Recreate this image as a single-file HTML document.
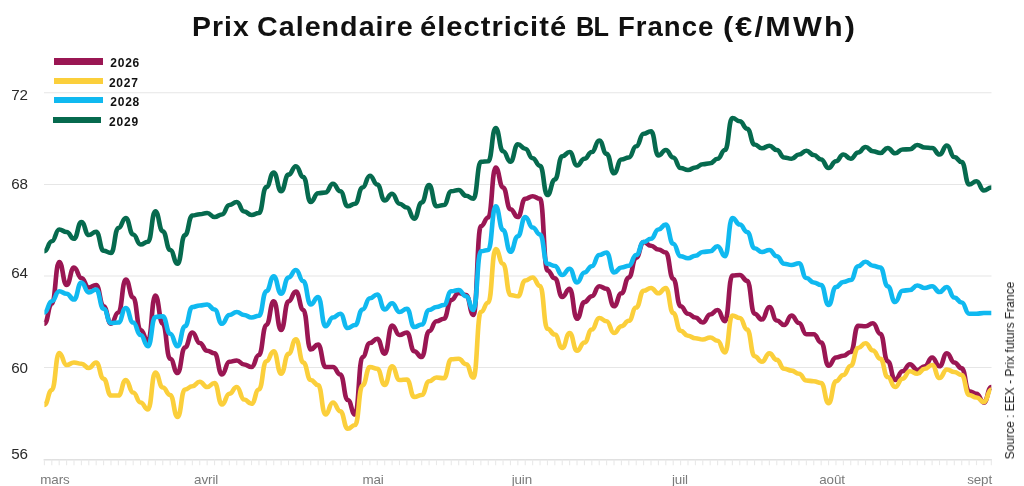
<!DOCTYPE html>
<html><head><meta charset="utf-8"><title>Prix Calendaire</title>
<style>
html,body{margin:0;padding:0;background:#fff;}
body{width:1024px;height:486px;position:relative;overflow:hidden;font-family:"Liberation Sans",sans-serif;}
#title{position:absolute;left:192px;top:9.5px;font-weight:bold;font-size:28px;line-height:34px;color:#111;white-space:nowrap;}
#title span{position:absolute;top:0;display:block;transform-origin:0 0;white-space:nowrap;}
svg{position:absolute;left:0;top:0;}
#lines{filter:blur(0.5px);}
.txt{filter:blur(0.35px);}
.yl{position:absolute;left:9.5px;width:20px;text-align:center;font-size:15.2px;line-height:18px;color:#2a2a2a;letter-spacing:-0.15px;}
.xl{position:absolute;top:471.8px;text-align:center;font-size:13.4px;line-height:16px;color:#7a7a7a;letter-spacing:-0.1px;}
.sw{position:absolute;height:6.6px;}
.lt{position:absolute;left:110.3px;font-size:12px;line-height:15px;font-weight:bold;color:#111;letter-spacing:0.75px;}
#src{position:absolute;left:1010px;top:371.3px;width:0;height:0;}
#src span{position:absolute;left:-100px;top:-8px;width:200px;text-align:center;font-size:13.6px;line-height:16px;color:#222;white-space:nowrap;transform:rotate(-90deg) scaleX(0.884);letter-spacing:0;}
</style></head><body>
<svg width="1024" height="486" viewBox="0 0 1024 486">
<line x1="44" x2="991.5" y1="92.75" y2="92.75" stroke="#e6e6e6" stroke-width="1.05"/><line x1="44" x2="991.5" y1="184.4" y2="184.4" stroke="#e6e6e6" stroke-width="1.05"/><line x1="44" x2="991.5" y1="276" y2="276" stroke="#e6e6e6" stroke-width="1.05"/><line x1="44" x2="991.5" y1="367.5" y2="367.5" stroke="#e6e6e6" stroke-width="1.05"/><line x1="43.6" x2="991.9" y1="459.75" y2="459.75" stroke="#e0e0e0" stroke-width="1.5"/><line x1="44.40" x2="44.40" y1="459.75" y2="465.15" stroke="#e9e9e9" stroke-width="1.1"/><line x1="51.80" x2="51.80" y1="459.75" y2="465.15" stroke="#e9e9e9" stroke-width="1.1"/><line x1="59.20" x2="59.20" y1="459.75" y2="465.15" stroke="#e9e9e9" stroke-width="1.1"/><line x1="66.59" x2="66.59" y1="459.75" y2="465.15" stroke="#e9e9e9" stroke-width="1.1"/><line x1="73.99" x2="73.99" y1="459.75" y2="465.15" stroke="#e9e9e9" stroke-width="1.1"/><line x1="81.39" x2="81.39" y1="459.75" y2="465.15" stroke="#e9e9e9" stroke-width="1.1"/><line x1="88.79" x2="88.79" y1="459.75" y2="465.15" stroke="#e9e9e9" stroke-width="1.1"/><line x1="96.18" x2="96.18" y1="459.75" y2="465.15" stroke="#e9e9e9" stroke-width="1.1"/><line x1="103.58" x2="103.58" y1="459.75" y2="465.15" stroke="#e9e9e9" stroke-width="1.1"/><line x1="110.98" x2="110.98" y1="459.75" y2="465.15" stroke="#e9e9e9" stroke-width="1.1"/><line x1="118.38" x2="118.38" y1="459.75" y2="465.15" stroke="#e9e9e9" stroke-width="1.1"/><line x1="125.77" x2="125.77" y1="459.75" y2="465.15" stroke="#e9e9e9" stroke-width="1.1"/><line x1="133.17" x2="133.17" y1="459.75" y2="465.15" stroke="#e9e9e9" stroke-width="1.1"/><line x1="140.57" x2="140.57" y1="459.75" y2="465.15" stroke="#e9e9e9" stroke-width="1.1"/><line x1="147.97" x2="147.97" y1="459.75" y2="465.15" stroke="#e9e9e9" stroke-width="1.1"/><line x1="155.36" x2="155.36" y1="459.75" y2="465.15" stroke="#e9e9e9" stroke-width="1.1"/><line x1="162.76" x2="162.76" y1="459.75" y2="465.15" stroke="#e9e9e9" stroke-width="1.1"/><line x1="170.16" x2="170.16" y1="459.75" y2="465.15" stroke="#e9e9e9" stroke-width="1.1"/><line x1="177.56" x2="177.56" y1="459.75" y2="465.15" stroke="#e9e9e9" stroke-width="1.1"/><line x1="184.96" x2="184.96" y1="459.75" y2="465.15" stroke="#e9e9e9" stroke-width="1.1"/><line x1="192.35" x2="192.35" y1="459.75" y2="465.15" stroke="#e9e9e9" stroke-width="1.1"/><line x1="199.75" x2="199.75" y1="459.75" y2="465.15" stroke="#e9e9e9" stroke-width="1.1"/><line x1="207.15" x2="207.15" y1="459.75" y2="465.15" stroke="#e9e9e9" stroke-width="1.1"/><line x1="214.55" x2="214.55" y1="459.75" y2="465.15" stroke="#e9e9e9" stroke-width="1.1"/><line x1="221.94" x2="221.94" y1="459.75" y2="465.15" stroke="#e9e9e9" stroke-width="1.1"/><line x1="229.34" x2="229.34" y1="459.75" y2="465.15" stroke="#e9e9e9" stroke-width="1.1"/><line x1="236.74" x2="236.74" y1="459.75" y2="465.15" stroke="#e9e9e9" stroke-width="1.1"/><line x1="244.14" x2="244.14" y1="459.75" y2="465.15" stroke="#e9e9e9" stroke-width="1.1"/><line x1="251.53" x2="251.53" y1="459.75" y2="465.15" stroke="#e9e9e9" stroke-width="1.1"/><line x1="258.93" x2="258.93" y1="459.75" y2="465.15" stroke="#e9e9e9" stroke-width="1.1"/><line x1="266.33" x2="266.33" y1="459.75" y2="465.15" stroke="#e9e9e9" stroke-width="1.1"/><line x1="273.73" x2="273.73" y1="459.75" y2="465.15" stroke="#e9e9e9" stroke-width="1.1"/><line x1="281.12" x2="281.12" y1="459.75" y2="465.15" stroke="#e9e9e9" stroke-width="1.1"/><line x1="288.52" x2="288.52" y1="459.75" y2="465.15" stroke="#e9e9e9" stroke-width="1.1"/><line x1="295.92" x2="295.92" y1="459.75" y2="465.15" stroke="#e9e9e9" stroke-width="1.1"/><line x1="303.32" x2="303.32" y1="459.75" y2="465.15" stroke="#e9e9e9" stroke-width="1.1"/><line x1="310.72" x2="310.72" y1="459.75" y2="465.15" stroke="#e9e9e9" stroke-width="1.1"/><line x1="318.11" x2="318.11" y1="459.75" y2="465.15" stroke="#e9e9e9" stroke-width="1.1"/><line x1="325.51" x2="325.51" y1="459.75" y2="465.15" stroke="#e9e9e9" stroke-width="1.1"/><line x1="332.91" x2="332.91" y1="459.75" y2="465.15" stroke="#e9e9e9" stroke-width="1.1"/><line x1="340.31" x2="340.31" y1="459.75" y2="465.15" stroke="#e9e9e9" stroke-width="1.1"/><line x1="347.70" x2="347.70" y1="459.75" y2="465.15" stroke="#e9e9e9" stroke-width="1.1"/><line x1="355.10" x2="355.10" y1="459.75" y2="465.15" stroke="#e9e9e9" stroke-width="1.1"/><line x1="362.50" x2="362.50" y1="459.75" y2="465.15" stroke="#e9e9e9" stroke-width="1.1"/><line x1="369.90" x2="369.90" y1="459.75" y2="465.15" stroke="#e9e9e9" stroke-width="1.1"/><line x1="377.29" x2="377.29" y1="459.75" y2="465.15" stroke="#e9e9e9" stroke-width="1.1"/><line x1="384.69" x2="384.69" y1="459.75" y2="465.15" stroke="#e9e9e9" stroke-width="1.1"/><line x1="392.09" x2="392.09" y1="459.75" y2="465.15" stroke="#e9e9e9" stroke-width="1.1"/><line x1="399.49" x2="399.49" y1="459.75" y2="465.15" stroke="#e9e9e9" stroke-width="1.1"/><line x1="406.89" x2="406.89" y1="459.75" y2="465.15" stroke="#e9e9e9" stroke-width="1.1"/><line x1="414.28" x2="414.28" y1="459.75" y2="465.15" stroke="#e9e9e9" stroke-width="1.1"/><line x1="421.68" x2="421.68" y1="459.75" y2="465.15" stroke="#e9e9e9" stroke-width="1.1"/><line x1="429.08" x2="429.08" y1="459.75" y2="465.15" stroke="#e9e9e9" stroke-width="1.1"/><line x1="436.48" x2="436.48" y1="459.75" y2="465.15" stroke="#e9e9e9" stroke-width="1.1"/><line x1="443.87" x2="443.87" y1="459.75" y2="465.15" stroke="#e9e9e9" stroke-width="1.1"/><line x1="451.27" x2="451.27" y1="459.75" y2="465.15" stroke="#e9e9e9" stroke-width="1.1"/><line x1="458.67" x2="458.67" y1="459.75" y2="465.15" stroke="#e9e9e9" stroke-width="1.1"/><line x1="466.07" x2="466.07" y1="459.75" y2="465.15" stroke="#e9e9e9" stroke-width="1.1"/><line x1="473.46" x2="473.46" y1="459.75" y2="465.15" stroke="#e9e9e9" stroke-width="1.1"/><line x1="480.86" x2="480.86" y1="459.75" y2="465.15" stroke="#e9e9e9" stroke-width="1.1"/><line x1="488.26" x2="488.26" y1="459.75" y2="465.15" stroke="#e9e9e9" stroke-width="1.1"/><line x1="495.66" x2="495.66" y1="459.75" y2="465.15" stroke="#e9e9e9" stroke-width="1.1"/><line x1="503.05" x2="503.05" y1="459.75" y2="465.15" stroke="#e9e9e9" stroke-width="1.1"/><line x1="510.45" x2="510.45" y1="459.75" y2="465.15" stroke="#e9e9e9" stroke-width="1.1"/><line x1="517.85" x2="517.85" y1="459.75" y2="465.15" stroke="#e9e9e9" stroke-width="1.1"/><line x1="525.25" x2="525.25" y1="459.75" y2="465.15" stroke="#e9e9e9" stroke-width="1.1"/><line x1="532.65" x2="532.65" y1="459.75" y2="465.15" stroke="#e9e9e9" stroke-width="1.1"/><line x1="540.04" x2="540.04" y1="459.75" y2="465.15" stroke="#e9e9e9" stroke-width="1.1"/><line x1="547.44" x2="547.44" y1="459.75" y2="465.15" stroke="#e9e9e9" stroke-width="1.1"/><line x1="554.84" x2="554.84" y1="459.75" y2="465.15" stroke="#e9e9e9" stroke-width="1.1"/><line x1="562.24" x2="562.24" y1="459.75" y2="465.15" stroke="#e9e9e9" stroke-width="1.1"/><line x1="569.63" x2="569.63" y1="459.75" y2="465.15" stroke="#e9e9e9" stroke-width="1.1"/><line x1="577.03" x2="577.03" y1="459.75" y2="465.15" stroke="#e9e9e9" stroke-width="1.1"/><line x1="584.43" x2="584.43" y1="459.75" y2="465.15" stroke="#e9e9e9" stroke-width="1.1"/><line x1="591.83" x2="591.83" y1="459.75" y2="465.15" stroke="#e9e9e9" stroke-width="1.1"/><line x1="599.22" x2="599.22" y1="459.75" y2="465.15" stroke="#e9e9e9" stroke-width="1.1"/><line x1="606.62" x2="606.62" y1="459.75" y2="465.15" stroke="#e9e9e9" stroke-width="1.1"/><line x1="614.02" x2="614.02" y1="459.75" y2="465.15" stroke="#e9e9e9" stroke-width="1.1"/><line x1="621.42" x2="621.42" y1="459.75" y2="465.15" stroke="#e9e9e9" stroke-width="1.1"/><line x1="628.81" x2="628.81" y1="459.75" y2="465.15" stroke="#e9e9e9" stroke-width="1.1"/><line x1="636.21" x2="636.21" y1="459.75" y2="465.15" stroke="#e9e9e9" stroke-width="1.1"/><line x1="643.61" x2="643.61" y1="459.75" y2="465.15" stroke="#e9e9e9" stroke-width="1.1"/><line x1="651.01" x2="651.01" y1="459.75" y2="465.15" stroke="#e9e9e9" stroke-width="1.1"/><line x1="658.41" x2="658.41" y1="459.75" y2="465.15" stroke="#e9e9e9" stroke-width="1.1"/><line x1="665.80" x2="665.80" y1="459.75" y2="465.15" stroke="#e9e9e9" stroke-width="1.1"/><line x1="673.20" x2="673.20" y1="459.75" y2="465.15" stroke="#e9e9e9" stroke-width="1.1"/><line x1="680.60" x2="680.60" y1="459.75" y2="465.15" stroke="#e9e9e9" stroke-width="1.1"/><line x1="688.00" x2="688.00" y1="459.75" y2="465.15" stroke="#e9e9e9" stroke-width="1.1"/><line x1="695.39" x2="695.39" y1="459.75" y2="465.15" stroke="#e9e9e9" stroke-width="1.1"/><line x1="702.79" x2="702.79" y1="459.75" y2="465.15" stroke="#e9e9e9" stroke-width="1.1"/><line x1="710.19" x2="710.19" y1="459.75" y2="465.15" stroke="#e9e9e9" stroke-width="1.1"/><line x1="717.59" x2="717.59" y1="459.75" y2="465.15" stroke="#e9e9e9" stroke-width="1.1"/><line x1="724.98" x2="724.98" y1="459.75" y2="465.15" stroke="#e9e9e9" stroke-width="1.1"/><line x1="732.38" x2="732.38" y1="459.75" y2="465.15" stroke="#e9e9e9" stroke-width="1.1"/><line x1="739.78" x2="739.78" y1="459.75" y2="465.15" stroke="#e9e9e9" stroke-width="1.1"/><line x1="747.18" x2="747.18" y1="459.75" y2="465.15" stroke="#e9e9e9" stroke-width="1.1"/><line x1="754.57" x2="754.57" y1="459.75" y2="465.15" stroke="#e9e9e9" stroke-width="1.1"/><line x1="761.97" x2="761.97" y1="459.75" y2="465.15" stroke="#e9e9e9" stroke-width="1.1"/><line x1="769.37" x2="769.37" y1="459.75" y2="465.15" stroke="#e9e9e9" stroke-width="1.1"/><line x1="776.77" x2="776.77" y1="459.75" y2="465.15" stroke="#e9e9e9" stroke-width="1.1"/><line x1="784.17" x2="784.17" y1="459.75" y2="465.15" stroke="#e9e9e9" stroke-width="1.1"/><line x1="791.56" x2="791.56" y1="459.75" y2="465.15" stroke="#e9e9e9" stroke-width="1.1"/><line x1="798.96" x2="798.96" y1="459.75" y2="465.15" stroke="#e9e9e9" stroke-width="1.1"/><line x1="806.36" x2="806.36" y1="459.75" y2="465.15" stroke="#e9e9e9" stroke-width="1.1"/><line x1="813.76" x2="813.76" y1="459.75" y2="465.15" stroke="#e9e9e9" stroke-width="1.1"/><line x1="821.15" x2="821.15" y1="459.75" y2="465.15" stroke="#e9e9e9" stroke-width="1.1"/><line x1="828.55" x2="828.55" y1="459.75" y2="465.15" stroke="#e9e9e9" stroke-width="1.1"/><line x1="835.95" x2="835.95" y1="459.75" y2="465.15" stroke="#e9e9e9" stroke-width="1.1"/><line x1="843.35" x2="843.35" y1="459.75" y2="465.15" stroke="#e9e9e9" stroke-width="1.1"/><line x1="850.74" x2="850.74" y1="459.75" y2="465.15" stroke="#e9e9e9" stroke-width="1.1"/><line x1="858.14" x2="858.14" y1="459.75" y2="465.15" stroke="#e9e9e9" stroke-width="1.1"/><line x1="865.54" x2="865.54" y1="459.75" y2="465.15" stroke="#e9e9e9" stroke-width="1.1"/><line x1="872.94" x2="872.94" y1="459.75" y2="465.15" stroke="#e9e9e9" stroke-width="1.1"/><line x1="880.34" x2="880.34" y1="459.75" y2="465.15" stroke="#e9e9e9" stroke-width="1.1"/><line x1="887.73" x2="887.73" y1="459.75" y2="465.15" stroke="#e9e9e9" stroke-width="1.1"/><line x1="895.13" x2="895.13" y1="459.75" y2="465.15" stroke="#e9e9e9" stroke-width="1.1"/><line x1="902.53" x2="902.53" y1="459.75" y2="465.15" stroke="#e9e9e9" stroke-width="1.1"/><line x1="909.93" x2="909.93" y1="459.75" y2="465.15" stroke="#e9e9e9" stroke-width="1.1"/><line x1="917.32" x2="917.32" y1="459.75" y2="465.15" stroke="#e9e9e9" stroke-width="1.1"/><line x1="924.72" x2="924.72" y1="459.75" y2="465.15" stroke="#e9e9e9" stroke-width="1.1"/><line x1="932.12" x2="932.12" y1="459.75" y2="465.15" stroke="#e9e9e9" stroke-width="1.1"/><line x1="939.52" x2="939.52" y1="459.75" y2="465.15" stroke="#e9e9e9" stroke-width="1.1"/><line x1="946.91" x2="946.91" y1="459.75" y2="465.15" stroke="#e9e9e9" stroke-width="1.1"/><line x1="954.31" x2="954.31" y1="459.75" y2="465.15" stroke="#e9e9e9" stroke-width="1.1"/><line x1="961.71" x2="961.71" y1="459.75" y2="465.15" stroke="#e9e9e9" stroke-width="1.1"/><line x1="969.11" x2="969.11" y1="459.75" y2="465.15" stroke="#e9e9e9" stroke-width="1.1"/><line x1="976.50" x2="976.50" y1="459.75" y2="465.15" stroke="#e9e9e9" stroke-width="1.1"/><line x1="983.90" x2="983.90" y1="459.75" y2="465.15" stroke="#e9e9e9" stroke-width="1.1"/><line x1="991.30" x2="991.30" y1="459.75" y2="465.15" stroke="#e9e9e9" stroke-width="1.1"/>
<g id="lines"><path d="M44.40,323.75C48.10,323.75,48.10,303.75,51.80,303.75C55.50,303.75,55.50,262.00,59.20,262.00C62.89,262.00,62.89,285.00,66.59,285.00C70.29,285.00,70.29,267.50,73.99,267.50C77.69,267.50,77.69,278.00,81.39,278.00C85.09,278.00,85.09,287.50,88.79,287.50C92.48,287.50,92.48,285.00,96.18,285.00C99.88,285.00,99.88,306.25,103.58,306.25C107.28,306.25,107.28,323.75,110.98,323.75C114.68,323.75,114.68,312.50,118.38,312.50C122.08,312.50,122.08,279.50,125.77,279.50C129.47,279.50,129.47,297.50,133.17,297.50C136.87,297.50,136.87,330.00,140.57,330.00C144.27,330.00,144.27,341.25,147.97,341.25C151.67,341.25,151.67,295.50,155.36,295.50C159.06,295.50,159.06,323.75,162.76,323.75C166.46,323.75,166.46,358.75,170.16,358.75C173.86,358.75,173.86,373.00,177.56,373.00C181.26,373.00,181.26,347.50,184.96,347.50C188.65,347.50,188.65,332.50,192.35,332.50C196.05,332.50,196.05,343.00,199.75,343.00C203.45,343.00,203.45,350.75,207.15,350.75C210.85,350.75,210.85,353.25,214.55,353.25C218.24,353.25,218.24,374.50,221.94,374.50C225.64,374.50,225.64,361.75,229.34,361.75C233.04,361.75,233.04,360.50,236.74,360.50C240.44,360.50,240.44,364.50,244.14,364.50C247.84,364.50,247.84,367.00,251.53,367.00C255.23,367.00,255.23,355.00,258.93,355.00C262.63,355.00,262.63,325.00,266.33,325.00C270.03,325.00,270.03,301.25,273.73,301.25C277.43,301.25,277.43,330.00,281.12,330.00C284.82,330.00,284.82,301.25,288.52,301.25C292.22,301.25,292.22,291.62,295.92,291.62C299.62,291.62,299.62,310.00,303.32,310.00C307.02,310.00,307.02,349.50,310.72,349.50C314.41,349.50,314.41,344.50,318.11,344.50C321.81,344.50,321.81,367.00,325.51,367.00C329.21,367.00,329.21,367.00,332.91,367.00C336.61,367.00,336.61,374.50,340.31,374.50C344.01,374.50,344.01,400.00,347.70,400.00C351.40,400.00,351.40,414.50,355.10,414.50C358.80,414.50,358.80,357.00,362.50,357.00C366.20,357.00,366.20,343.00,369.90,343.00C373.60,343.00,373.60,338.75,377.29,338.75C380.99,338.75,380.99,353.75,384.69,353.75C388.39,353.75,388.39,325.50,392.09,325.50C395.79,325.50,395.79,335.00,399.49,335.00C403.19,335.00,403.19,332.50,406.89,332.50C410.58,332.50,410.58,351.25,414.28,351.25C417.98,351.25,417.98,357.00,421.68,357.00C425.38,357.00,425.38,331.25,429.08,331.25C432.78,331.25,432.78,321.25,436.48,321.25C440.17,321.25,440.17,318.75,443.87,318.75C447.57,318.75,447.57,300.00,451.27,300.00C454.97,300.00,454.97,293.00,458.67,293.00C462.37,293.00,462.37,295.00,466.07,295.00C469.77,295.00,469.77,315.00,473.46,315.00C477.16,315.00,477.16,226.25,480.86,226.25C484.56,226.25,484.56,217.50,488.26,217.50C491.96,217.50,491.96,167.50,495.66,167.50C499.36,167.50,499.36,187.50,503.05,187.50C506.75,187.50,506.75,209.25,510.45,209.25C514.15,209.25,514.15,217.00,517.85,217.00C521.55,217.00,521.55,198.75,525.25,198.75C528.95,198.75,528.95,196.25,532.65,196.25C536.34,196.25,536.34,198.75,540.04,198.75C543.74,198.75,543.74,270.50,547.44,270.50C551.14,270.50,551.14,278.25,554.84,278.25C558.54,278.25,558.54,297.00,562.24,297.00C565.93,297.00,565.93,288.75,569.63,288.75C573.33,288.75,573.33,318.75,577.03,318.75C580.73,318.75,580.73,302.00,584.43,302.00C588.13,302.00,588.13,296.25,591.83,296.25C595.53,296.25,595.53,286.25,599.22,286.25C602.92,286.25,602.92,288.75,606.62,288.75C610.32,288.75,610.32,306.25,614.02,306.25C617.72,306.25,617.72,293.25,621.42,293.25C625.12,293.25,625.12,277.50,628.81,277.50C632.51,277.50,632.51,257.50,636.21,257.50C639.91,257.50,639.91,242.00,643.61,242.00C647.31,242.00,647.31,245.75,651.01,245.75C654.71,245.75,654.71,249.50,658.41,249.50C662.10,249.50,662.10,252.50,665.80,252.50C669.50,252.50,669.50,278.75,673.20,278.75C676.90,278.75,676.90,306.25,680.60,306.25C684.30,306.25,684.30,313.75,688.00,313.75C691.69,313.75,691.69,317.50,695.39,317.50C699.09,317.50,699.09,322.50,702.79,322.50C706.49,322.50,706.49,314.50,710.19,314.50C713.89,314.50,713.89,310.00,717.59,310.00C721.29,310.00,721.29,321.25,724.98,321.25C728.68,321.25,728.68,275.50,732.38,275.50C736.08,275.50,736.08,275.00,739.78,275.00C743.48,275.00,743.48,280.75,747.18,280.75C750.88,280.75,750.88,313.75,754.57,313.75C758.27,313.75,758.27,319.50,761.97,319.50C765.67,319.50,765.67,307.00,769.37,307.00C773.07,307.00,773.07,320.50,776.77,320.50C780.47,320.50,780.47,325.00,784.17,325.00C787.86,325.00,787.86,315.62,791.56,315.62C795.26,315.62,795.26,323.00,798.96,323.00C802.66,323.00,802.66,334.25,806.36,334.25C810.06,334.25,810.06,334.25,813.76,334.25C817.46,334.25,817.46,342.50,821.15,342.50C824.85,342.50,824.85,365.75,828.55,365.75C832.25,365.75,832.25,357.50,835.95,357.50C839.65,357.50,839.65,355.75,843.35,355.75C847.05,355.75,847.05,352.00,850.74,352.00C854.44,352.00,854.44,325.75,858.14,325.75C861.84,325.75,861.84,326.25,865.54,326.25C869.24,326.25,869.24,323.25,872.94,323.25C876.64,323.25,876.64,333.75,880.34,333.75C884.03,333.75,884.03,361.25,887.73,361.25C891.43,361.25,891.43,380.00,895.13,380.00C898.83,380.00,898.83,371.25,902.53,371.25C906.23,371.25,906.23,364.25,909.93,364.25C913.62,364.25,913.62,370.00,917.32,370.00C921.02,370.00,921.02,366.25,924.72,366.25C928.42,366.25,928.42,357.50,932.12,357.50C935.82,357.50,935.82,366.25,939.52,366.25C943.22,366.25,943.22,353.25,946.91,353.25C950.61,353.25,950.61,362.50,954.31,362.50C958.01,362.50,958.01,368.25,961.71,368.25C965.41,368.25,965.41,391.25,969.11,391.25C972.81,391.25,972.81,393.75,976.50,393.75C980.20,393.75,980.20,402.50,983.90,402.50C987.60,402.50,987.60,387.00,991.30,387.00" fill="none" stroke="#9a1653" stroke-width="4.65" stroke-linejoin="round" stroke-linecap="butt"/>
<path d="M44.40,405.00C48.10,405.00,48.10,390.00,51.80,390.00C55.50,390.00,55.50,353.00,59.20,353.00C62.89,353.00,62.89,365.00,66.59,365.00C70.29,365.00,70.29,362.50,73.99,362.50C77.69,362.50,77.69,363.75,81.39,363.75C85.09,363.75,85.09,368.00,88.79,368.00C92.48,368.00,92.48,362.50,96.18,362.50C99.88,362.50,99.88,378.75,103.58,378.75C107.28,378.75,107.28,395.50,110.98,395.50C114.68,395.50,114.68,395.50,118.38,395.50C122.08,395.50,122.08,380.00,125.77,380.00C129.47,380.00,129.47,392.50,133.17,392.50C136.87,392.50,136.87,402.50,140.57,402.50C144.27,402.50,144.27,409.50,147.97,409.50C151.67,409.50,151.67,372.50,155.36,372.50C159.06,372.50,159.06,387.50,162.76,387.50C166.46,387.50,166.46,395.00,170.16,395.00C173.86,395.00,173.86,417.00,177.56,417.00C181.26,417.00,181.26,389.50,184.96,389.50C188.65,389.50,188.65,386.25,192.35,386.25C196.05,386.25,196.05,381.75,199.75,381.75C203.45,381.75,203.45,387.00,207.15,387.00C210.85,387.00,210.85,383.00,214.55,383.00C218.24,383.00,218.24,404.50,221.94,404.50C225.64,404.50,225.64,393.75,229.34,393.75C233.04,393.75,233.04,387.00,236.74,387.00C240.44,387.00,240.44,399.50,244.14,399.50C247.84,399.50,247.84,403.75,251.53,403.75C255.23,403.75,255.23,389.50,258.93,389.50C262.63,389.50,262.63,361.25,266.33,361.25C270.03,361.25,270.03,351.25,273.73,351.25C277.43,351.25,277.43,373.75,281.12,373.75C284.82,373.75,284.82,353.75,288.52,353.75C292.22,353.75,292.22,339.38,295.92,339.38C299.62,339.38,299.62,362.50,303.32,362.50C307.02,362.50,307.02,380.00,310.72,380.00C314.41,380.00,314.41,385.00,318.11,385.00C321.81,385.00,321.81,414.50,325.51,414.50C329.21,414.50,329.21,402.50,332.91,402.50C336.61,402.50,336.61,411.25,340.31,411.25C344.01,411.25,344.01,428.75,347.70,428.75C351.40,428.75,351.40,425.00,355.10,425.00C358.80,425.00,358.80,385.50,362.50,385.50C366.20,385.50,366.20,367.00,369.90,367.00C373.60,367.00,373.60,368.75,377.29,368.75C380.99,368.75,380.99,385.00,384.69,385.00C388.39,385.00,388.39,366.25,392.09,366.25C395.79,366.25,395.79,380.00,399.49,380.00C403.19,380.00,403.19,379.50,406.89,379.50C410.58,379.50,410.58,397.00,414.28,397.00C417.98,397.00,417.98,395.00,421.68,395.00C425.38,395.00,425.38,381.25,429.08,381.25C432.78,381.25,432.78,377.50,436.48,377.50C440.17,377.50,440.17,378.25,443.87,378.25C447.57,378.25,447.57,359.25,451.27,359.25C454.97,359.25,454.97,358.75,458.67,358.75C462.37,358.75,462.37,364.25,466.07,364.25C469.77,364.25,469.77,377.50,473.46,377.50C477.16,377.50,477.16,312.00,480.86,312.00C484.56,312.00,484.56,302.50,488.26,302.50C491.96,302.50,491.96,249.00,495.66,249.00C499.36,249.00,499.36,263.75,503.05,263.75C506.75,263.75,506.75,295.00,510.45,295.00C514.15,295.00,514.15,296.25,517.85,296.25C521.55,296.25,521.55,280.50,525.25,280.50C528.95,280.50,528.95,277.50,532.65,277.50C536.34,277.50,536.34,286.00,540.04,286.00C543.74,286.00,543.74,328.75,547.44,328.75C551.14,328.75,551.14,334.50,554.84,334.50C558.54,334.50,558.54,348.00,562.24,348.00C565.93,348.00,565.93,333.00,569.63,333.00C573.33,333.00,573.33,350.75,577.03,350.75C580.73,350.75,580.73,342.50,584.43,342.50C588.13,342.50,588.13,329.50,591.83,329.50C595.53,329.50,595.53,318.00,599.22,318.00C602.92,318.00,602.92,321.25,606.62,321.25C610.32,321.25,610.32,333.00,614.02,333.00C617.72,333.00,617.72,326.25,621.42,326.25C625.12,326.25,625.12,320.75,628.81,320.75C632.51,320.75,632.51,307.50,636.21,307.50C639.91,307.50,639.91,290.75,643.61,290.75C647.31,290.75,647.31,288.00,651.01,288.00C654.71,288.00,654.71,293.25,658.41,293.25C662.10,293.25,662.10,288.00,665.80,288.00C669.50,288.00,669.50,313.00,673.20,313.00C676.90,313.00,676.90,330.75,680.60,330.75C684.30,330.75,684.30,335.75,688.00,335.75C691.69,335.75,691.69,338.25,695.39,338.25C699.09,338.25,699.09,339.50,702.79,339.50C706.49,339.50,706.49,337.50,710.19,337.50C713.89,337.50,713.89,340.75,717.59,340.75C721.29,340.75,721.29,352.50,724.98,352.50C728.68,352.50,728.68,315.50,732.38,315.50C736.08,315.50,736.08,318.00,739.78,318.00C743.48,318.00,743.48,329.50,747.18,329.50C750.88,329.50,750.88,356.25,754.57,356.25C758.27,356.25,758.27,361.75,761.97,361.75C765.67,361.75,765.67,353.38,769.37,353.38C773.07,353.38,773.07,359.88,776.77,359.88C780.47,359.88,780.47,368.75,784.17,368.75C787.86,368.75,787.86,370.62,791.56,370.62C795.26,370.62,795.26,373.75,798.96,373.75C802.66,373.75,802.66,380.50,806.36,380.50C810.06,380.50,810.06,381.25,813.76,381.25C817.46,381.25,817.46,383.00,821.15,383.00C824.85,383.00,824.85,403.25,828.55,403.25C832.25,403.25,832.25,381.25,835.95,381.25C839.65,381.25,839.65,375.00,843.35,375.00C847.05,375.00,847.05,365.75,850.74,365.75C854.44,365.75,854.44,348.00,858.14,348.00C861.84,348.00,861.84,343.25,865.54,343.25C869.24,343.25,869.24,350.50,872.94,350.50C876.64,350.50,876.64,358.75,880.34,358.75C884.03,358.75,884.03,377.00,887.73,377.00C891.43,377.00,891.43,387.00,895.13,387.00C898.83,387.00,898.83,378.75,902.53,378.75C906.23,378.75,906.23,371.25,909.93,371.25C913.62,371.25,913.62,373.75,917.32,373.75C921.02,373.75,921.02,368.75,924.72,368.75C928.42,368.75,928.42,365.00,932.12,365.00C935.82,365.00,935.82,378.00,939.52,378.00C943.22,378.00,943.22,369.50,946.91,369.50C950.61,369.50,950.61,372.00,954.31,372.00C958.01,372.00,958.01,375.00,961.71,375.00C965.41,375.00,965.41,395.00,969.11,395.00C972.81,395.00,972.81,397.50,976.50,397.50C980.20,397.50,980.20,402.00,983.90,402.00C987.60,402.00,987.60,389.50,991.30,389.50" fill="none" stroke="#fbcf3b" stroke-width="4.65" stroke-linejoin="round" stroke-linecap="butt"/>
<path d="M44.40,312.50C48.10,312.50,48.10,301.25,51.80,301.25C55.50,301.25,55.50,291.25,59.20,291.25C62.89,291.25,62.89,293.75,66.59,293.75C70.29,293.75,70.29,299.50,73.99,299.50C77.69,299.50,77.69,282.50,81.39,282.50C85.09,282.50,85.09,292.50,88.79,292.50C92.48,292.50,92.48,289.50,96.18,289.50C99.88,289.50,99.88,308.75,103.58,308.75C107.28,308.75,107.28,323.00,110.98,323.00C114.68,323.00,114.68,322.50,118.38,322.50C122.08,322.50,122.08,308.00,125.77,308.00C129.47,308.00,129.47,322.50,133.17,322.50C136.87,322.50,136.87,335.00,140.57,335.00C144.27,335.00,144.27,346.25,147.97,346.25C151.67,346.25,151.67,317.00,155.36,317.00C159.06,317.00,159.06,316.25,162.76,316.25C166.46,316.25,166.46,333.75,170.16,333.75C173.86,333.75,173.86,346.25,177.56,346.25C181.26,346.25,181.26,326.25,184.96,326.25C188.65,326.25,188.65,307.00,192.35,307.00C196.05,307.00,196.05,305.50,199.75,305.50C203.45,305.50,203.45,304.50,207.15,304.50C210.85,304.50,210.85,309.50,214.55,309.50C218.24,309.50,218.24,323.75,221.94,323.75C225.64,323.75,225.64,315.00,229.34,315.00C233.04,315.00,233.04,312.00,236.74,312.00C240.44,312.00,240.44,315.00,244.14,315.00C247.84,315.00,247.84,317.50,251.53,317.50C255.23,317.50,255.23,315.75,258.93,315.75C262.63,315.75,262.63,291.25,266.33,291.25C270.03,291.25,270.03,276.25,273.73,276.25C277.43,276.25,277.43,293.75,281.12,293.75C284.82,293.75,284.82,277.50,288.52,277.50C292.22,277.50,292.22,270.00,295.92,270.00C299.62,270.00,299.62,281.25,303.32,281.25C307.02,281.25,307.02,304.50,310.72,304.50C314.41,304.50,314.41,297.00,318.11,297.00C321.81,297.00,321.81,326.25,325.51,326.25C329.21,326.25,329.21,317.50,332.91,317.50C336.61,317.50,336.61,313.75,340.31,313.75C344.01,313.75,344.01,328.00,347.70,328.00C351.40,328.00,351.40,325.00,355.10,325.00C358.80,325.00,358.80,309.50,362.50,309.50C366.20,309.50,366.20,298.25,369.90,298.25C373.60,298.25,373.60,294.50,377.29,294.50C380.99,294.50,380.99,309.50,384.69,309.50C388.39,309.50,388.39,303.25,392.09,303.25C395.79,303.25,395.79,312.00,399.49,312.00C403.19,312.00,403.19,308.75,406.89,308.75C410.58,308.75,410.58,327.00,414.28,327.00C417.98,327.00,417.98,324.50,421.68,324.50C425.38,324.50,425.38,310.00,429.08,310.00C432.78,310.00,432.78,307.00,436.48,307.00C440.17,307.00,440.17,305.00,443.87,305.00C447.57,305.00,447.57,291.25,451.27,291.25C454.97,291.25,454.97,290.00,458.67,290.00C462.37,290.00,462.37,296.25,466.07,296.25C469.77,296.25,469.77,310.00,473.46,310.00C477.16,310.00,477.16,251.25,480.86,251.25C484.56,251.25,484.56,250.00,488.26,250.00C491.96,250.00,491.96,206.25,495.66,206.25C499.36,206.25,499.36,230.00,503.05,230.00C506.75,230.00,506.75,251.75,510.45,251.75C514.15,251.75,514.15,236.25,517.85,236.25C521.55,236.25,521.55,217.00,525.25,217.00C528.95,217.00,528.95,227.50,532.65,227.50C536.34,227.50,536.34,234.50,540.04,234.50C543.74,234.50,543.74,263.75,547.44,263.75C551.14,263.75,551.14,266.00,554.84,266.00C558.54,266.00,558.54,275.00,562.24,275.00C565.93,275.00,565.93,268.75,569.63,268.75C573.33,268.75,573.33,282.50,577.03,282.50C580.73,282.50,580.73,272.50,584.43,272.50C588.13,272.50,588.13,266.25,591.83,266.25C595.53,266.25,595.53,255.00,599.22,255.00C602.92,255.00,602.92,252.50,606.62,252.50C610.32,252.50,610.32,272.50,614.02,272.50C617.72,272.50,617.72,267.50,621.42,267.50C625.12,267.50,625.12,265.75,628.81,265.75C632.51,265.75,632.51,255.00,636.21,255.00C639.91,255.00,639.91,242.00,643.61,242.00C647.31,242.00,647.31,238.75,651.01,238.75C654.71,238.75,654.71,229.50,658.41,229.50C662.10,229.50,662.10,224.50,665.80,224.50C669.50,224.50,669.50,243.75,673.20,243.75C676.90,243.75,676.90,256.25,680.60,256.25C684.30,256.25,684.30,258.25,688.00,258.25C691.69,258.25,691.69,255.75,695.39,255.75C699.09,255.75,699.09,252.00,702.79,252.00C706.49,252.00,706.49,251.25,710.19,251.25C713.89,251.25,713.89,246.25,717.59,246.25C721.29,246.25,721.29,256.25,724.98,256.25C728.68,256.25,728.68,218.00,732.38,218.00C736.08,218.00,736.08,224.50,739.78,224.50C743.48,224.50,743.48,232.00,747.18,232.00C750.88,232.00,750.88,248.25,754.57,248.25C758.27,248.25,758.27,252.00,761.97,252.00C765.67,252.00,765.67,250.00,769.37,250.00C773.07,250.00,773.07,256.25,776.77,256.25C780.47,256.25,780.47,263.75,784.17,263.75C787.86,263.75,787.86,265.00,791.56,265.00C795.26,265.00,795.26,263.25,798.96,263.25C802.66,263.25,802.66,278.00,806.36,278.00C810.06,278.00,810.06,282.50,813.76,282.50C817.46,282.50,817.46,285.00,821.15,285.00C824.85,285.00,824.85,305.00,828.55,305.00C832.25,305.00,832.25,287.00,835.95,287.00C839.65,287.00,839.65,282.00,843.35,282.00C847.05,282.00,847.05,280.00,850.74,280.00C854.44,280.00,854.44,266.25,858.14,266.25C861.84,266.25,861.84,261.75,865.54,261.75C869.24,261.75,869.24,265.75,872.94,265.75C876.64,265.75,876.64,267.50,880.34,267.50C884.03,267.50,884.03,286.25,887.73,286.25C891.43,286.25,891.43,302.00,895.13,302.00C898.83,302.00,898.83,290.75,902.53,290.75C906.23,290.75,906.23,290.00,909.93,290.00C913.62,290.00,913.62,285.50,917.32,285.50C921.02,285.50,921.02,288.00,924.72,288.00C928.42,288.00,928.42,286.25,932.12,286.25C935.82,286.25,935.82,292.00,939.52,292.00C943.22,292.00,943.22,287.00,946.91,287.00C950.61,287.00,950.61,297.50,954.31,297.50C958.01,297.50,958.01,302.50,961.71,302.50C965.41,302.50,965.41,313.75,969.11,313.75C972.81,313.75,972.81,313.75,976.50,313.75C980.20,313.75,980.20,313.00,983.90,313.00C987.60,313.00,987.60,313.00,991.30,313.00" fill="none" stroke="#10b9f0" stroke-width="4.65" stroke-linejoin="round" stroke-linecap="butt"/>
<path d="M44.40,251.25C48.10,251.25,48.10,241.25,51.80,241.25C55.50,241.25,55.50,229.50,59.20,229.50C62.89,229.50,62.89,232.00,66.59,232.00C70.29,232.00,70.29,238.75,73.99,238.75C77.69,238.75,77.69,222.00,81.39,222.00C85.09,222.00,85.09,235.00,88.79,235.00C92.48,235.00,92.48,231.75,96.18,231.75C99.88,231.75,99.88,250.75,103.58,250.75C107.28,250.75,107.28,253.00,110.98,253.00C114.68,253.00,114.68,228.00,118.38,228.00C122.08,228.00,122.08,218.00,125.77,218.00C129.47,218.00,129.47,234.50,133.17,234.50C136.87,234.50,136.87,244.50,140.57,244.50C144.27,244.50,144.27,241.75,147.97,241.75C151.67,241.75,151.67,211.25,155.36,211.25C159.06,211.25,159.06,231.25,162.76,231.25C166.46,231.25,166.46,250.00,170.16,250.00C173.86,250.00,173.86,263.75,177.56,263.75C181.26,263.75,181.26,235.00,184.96,235.00C188.65,235.00,188.65,215.50,192.35,215.50C196.05,215.50,196.05,214.25,199.75,214.25C203.45,214.25,203.45,213.00,207.15,213.00C210.85,213.00,210.85,217.00,214.55,217.00C218.24,217.00,218.24,214.50,221.94,214.50C225.64,214.50,225.64,205.00,229.34,205.00C233.04,205.00,233.04,202.00,236.74,202.00C240.44,202.00,240.44,211.50,244.14,211.50C247.84,211.50,247.84,215.00,251.53,215.00C255.23,215.00,255.23,213.00,258.93,213.00C262.63,213.00,262.63,187.00,266.33,187.00C270.03,187.00,270.03,172.50,273.73,172.50C277.43,172.50,277.43,191.25,281.12,191.25C284.82,191.25,284.82,174.62,288.52,174.62C292.22,174.62,292.22,166.25,295.92,166.25C299.62,166.25,299.62,177.00,303.32,177.00C307.02,177.00,307.02,202.00,310.72,202.00C314.41,202.00,314.41,193.25,318.11,193.25C321.81,193.25,321.81,192.50,325.51,192.50C329.21,192.50,329.21,183.75,332.91,183.75C336.61,183.75,336.61,191.25,340.31,191.25C344.01,191.25,344.01,206.25,347.70,206.25C351.40,206.25,351.40,203.75,355.10,203.75C358.80,203.75,358.80,187.50,362.50,187.50C366.20,187.50,366.20,175.75,369.90,175.75C373.60,175.75,373.60,184.50,377.29,184.50C380.99,184.50,380.99,200.50,384.69,200.50C388.39,200.50,388.39,193.75,392.09,193.75C395.79,193.75,395.79,203.75,399.49,203.75C403.19,203.75,403.19,207.50,406.89,207.50C410.58,207.50,410.58,218.75,414.28,218.75C417.98,218.75,417.98,202.50,421.68,202.50C425.38,202.50,425.38,185.00,429.08,185.00C432.78,185.00,432.78,206.25,436.48,206.25C440.17,206.25,440.17,205.00,443.87,205.00C447.57,205.00,447.57,191.25,451.27,191.25C454.97,191.25,454.97,190.00,458.67,190.00C462.37,190.00,462.37,195.75,466.07,195.75C469.77,195.75,469.77,198.75,473.46,198.75C477.16,198.75,477.16,161.75,480.86,161.75C484.56,161.75,484.56,161.25,488.26,161.25C491.96,161.25,491.96,128.00,495.66,128.00C499.36,128.00,499.36,151.25,503.05,151.25C506.75,151.25,506.75,161.75,510.45,161.75C514.15,161.75,514.15,144.25,517.85,144.25C521.55,144.25,521.55,148.75,525.25,148.75C528.95,148.75,528.95,158.25,532.65,158.25C536.34,158.25,536.34,165.88,540.04,165.88C543.74,165.88,543.74,195.00,547.44,195.00C551.14,195.00,551.14,179.50,554.84,179.50C558.54,179.50,558.54,156.25,562.24,156.25C565.93,156.25,565.93,152.00,569.63,152.00C573.33,152.00,573.33,165.50,577.03,165.50C580.73,165.50,580.73,158.75,584.43,158.75C588.13,158.75,588.13,152.00,591.83,152.00C595.53,152.00,595.53,140.50,599.22,140.50C602.92,140.50,602.92,153.75,606.62,153.75C610.32,153.75,610.32,173.25,614.02,173.25C617.72,173.25,617.72,159.50,621.42,159.50C625.12,159.50,625.12,157.50,628.81,157.50C632.51,157.50,632.51,146.25,636.21,146.25C639.91,146.25,639.91,133.75,643.61,133.75C647.31,133.75,647.31,131.25,651.01,131.25C654.71,131.25,654.71,155.50,658.41,155.50C662.10,155.50,662.10,150.00,665.80,150.00C669.50,150.00,669.50,157.50,673.20,157.50C676.90,157.50,676.90,168.00,680.60,168.00C684.30,168.00,684.30,170.00,688.00,170.00C691.69,170.00,691.69,167.50,695.39,167.50C699.09,167.50,699.09,164.25,702.79,164.25C706.49,164.25,706.49,163.25,710.19,163.25C713.89,163.25,713.89,158.75,717.59,158.75C721.29,158.75,721.29,150.00,724.98,150.00C728.68,150.00,728.68,118.00,732.38,118.00C736.08,118.00,736.08,121.25,739.78,121.25C743.48,121.25,743.48,128.75,747.18,128.75C750.88,128.75,750.88,144.50,754.57,144.50C758.27,144.50,758.27,148.25,761.97,148.25C765.67,148.25,765.67,145.75,769.37,145.75C773.07,145.75,773.07,150.00,776.77,150.00C780.47,150.00,780.47,157.50,784.17,157.50C787.86,157.50,787.86,158.75,791.56,158.75C795.26,158.75,795.26,154.50,798.96,154.50C802.66,154.50,802.66,150.75,806.36,150.75C810.06,150.75,810.06,155.00,813.76,155.00C817.46,155.00,817.46,159.50,821.15,159.50C824.85,159.50,824.85,168.00,828.55,168.00C832.25,168.00,832.25,161.25,835.95,161.25C839.65,161.25,839.65,154.50,843.35,154.50C847.05,154.50,847.05,158.75,850.74,158.75C854.44,158.75,854.44,152.50,858.14,152.50C861.84,152.50,861.84,147.00,865.54,147.00C869.24,147.00,869.24,151.25,872.94,151.25C876.64,151.25,876.64,153.00,880.34,153.00C884.03,153.00,884.03,148.00,887.73,148.00C891.43,148.00,891.43,153.25,895.13,153.25C898.83,153.25,898.83,149.50,902.53,149.50C906.23,149.50,906.23,149.25,909.93,149.25C913.62,149.25,913.62,145.00,917.32,145.00C921.02,145.00,921.02,147.50,924.72,147.50C928.42,147.50,928.42,148.00,932.12,148.00C935.82,148.00,935.82,154.50,939.52,154.50C943.22,154.50,943.22,145.50,946.91,145.50C950.61,145.50,950.61,157.00,954.31,157.00C958.01,157.00,958.01,162.00,961.71,162.00C965.41,162.00,965.41,184.50,969.11,184.50C972.81,184.50,972.81,181.25,976.50,181.25C980.20,181.25,980.20,190.50,983.90,190.50C987.60,190.50,987.60,187.50,991.30,187.50" fill="none" stroke="#066a4e" stroke-width="4.65" stroke-linejoin="round" stroke-linecap="butt"/></g>
</svg>
<div class="txt"><div id="title"><span style="left:-0.30px;letter-spacing:1.00px;transform:scaleX(1.0140)">Prix</span><span style="left:64.50px;letter-spacing:1.00px;transform:scaleX(1.0230)">Calendaire</span><span style="left:228.20px;letter-spacing:1.00px;transform:scaleX(1.0380)">électricité</span><span style="left:384.20px;letter-spacing:-1.00px;transform:scaleX(0.9040)">BL</span><span style="left:426.00px;letter-spacing:1.00px;transform:scaleX(0.9840)">France</span><span style="left:530.70px;letter-spacing:2.00px;transform:scaleX(1.0920)">(€/MWh)</span></div>
<div class="yl" style="top:85.70px">72</div><div class="yl" style="top:174.95px">68</div><div class="yl" style="top:264.45px">64</div><div class="yl" style="top:358.95px">60</div><div class="yl" style="top:444.70px">56</div>
<div class="xl" style="left:25.00px;width:60.00px">mars</div><div class="xl" style="left:176.12px;width:60.00px">avril</div><div class="xl" style="left:343.12px;width:60.00px">mai</div><div class="xl" style="left:491.88px;width:60.00px">juin</div><div class="xl" style="left:650.00px;width:60.00px">juil</div><div class="xl" style="left:802.12px;width:60.00px">août</div><div class="xl" style="left:949.62px;width:60.00px">sept</div>
<div class="sw" style="left:54.30px;top:57.95px;width:48.25px;background:#9a1653"></div><div class="lt" style="top:55.85px;margin-left:0.0px">2026</div><div class="sw" style="left:54.30px;top:77.60px;width:48.25px;background:#fbcf3b"></div><div class="lt" style="top:76.40px;margin-left:-1.4px">2027</div><div class="sw" style="left:54.30px;top:96.70px;width:48.25px;background:#10b9f0"></div><div class="lt" style="top:95.30px;margin-left:0.0px">2028</div><div class="sw" style="left:53.00px;top:116.80px;width:48.10px;background:#066a4e"></div><div class="lt" style="top:114.50px;margin-left:-1.2px">2029</div>
<div id="src"><span>Source : EEX - Prix futurs France</span></div></div>
</body></html>
